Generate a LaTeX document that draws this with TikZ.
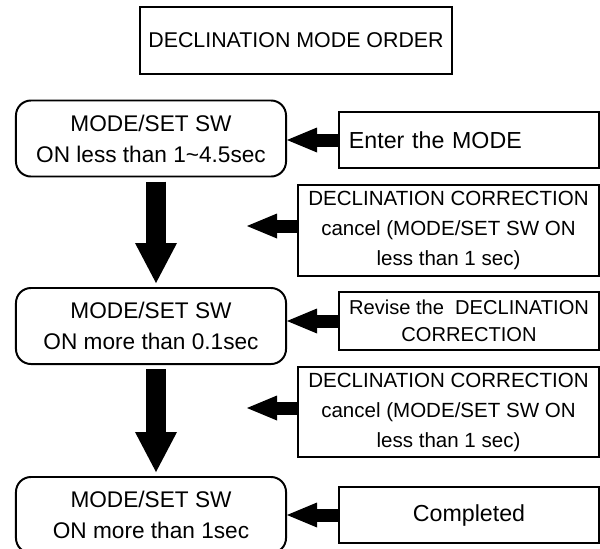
\documentclass[tikz,border=0pt]{standalone}
\usepackage{fontspec}
\setmainfont{Liberation Sans}
\usetikzlibrary{arrows.meta}

\begin{document}
\begin{tikzpicture}[x=0.025cm, y=-0.025cm, line width=1.4pt,
	every node/.style={draw, inner sep=0pt, align=center},
	swbox/.style={rounded corners=0.375cm, minimum width=6.75cm, minimum height=1.9cm, font=\fontsize{16.1}{22}\selectfont},
	msgbox/.style={minimum width=6.5cm, minimum height=1.42cm, font=\fontsize{16.5}{22}\selectfont},
	notebox/.style={minimum width=7.525cm, minimum height=2.27cm, font=\fontsize{14.6}{21.3}\selectfont},
	bigarrow/.style={line width=0.475cm, -{Triangle[width=1.05cm, length=1.0cm, line width=0pt]}, shorten <=0.1cm, shorten >=0.1cm},
	smallarrow/.style={line width=0.325cm, -{Triangle[width=0.625cm, length=0.75cm, line width=0pt]}}]
	\useasboundingbox (0,0) rectangle (600,548);
	\node[minimum width=7.8cm, minimum height=1.675cm, font=\fontsize{15.2}{18}\selectfont] (title) at (296,40.5) {DECLINATION MODE ORDER};
	% switch steps
	\node[swbox] (sw1) at (151,138.5) {MODE/SET SW\\ON less than 1\textasciitilde4.5sec};
	\node[swbox] (sw2) at (151,326) {MODE/SET SW\\ON more than 0.1sec};
	\node[swbox] (sw3) at (151,515) {MODE/SET SW\\ON more than 1sec};
	% messages
	\node[msgbox, text width=6.0cm, align=left] (enter) at (469,140) {Enter the MODE};
	\node[notebox] (cancel1) at (448.5,230.5) {DECLINATION CORRECTION\\cancel (MODE/SET SW ON\\less than 1 sec)};
	\node[msgbox, minimum height=1.45cm, font=\fontsize{14.3}{19.2}\selectfont] (revise) at (469,321) {Revise the\ \ DECLINATION\\CORRECTION};
	\node[notebox, minimum height=2.25cm] (cancel2) at (448.5,412) {DECLINATION CORRECTION\\cancel (MODE/SET SW ON\\less than 1 sec)};
	\node[msgbox] (done) at (469,515) {Completed};
	\coordinate (free1) at (247,226);
	\coordinate (free2) at (247,408);
	% arrows
	\draw[bigarrow] ([xshift=0.125cm]sw1.south) -- ([xshift=0.125cm]sw2.north);
	\draw[bigarrow] ([xshift=0.125cm]sw2.south) -- ([xshift=0.125cm]sw3.north);
	\foreach \from/\to in {enter/sw1, revise/sw2, done/sw3} {\draw[smallarrow] (\from.west) -- (\from.west -| \to.east);}
	\foreach \from/\to in {cancel1/free1, cancel2/free2} {\draw[smallarrow] (\from.west |- \to) -- (\to);}
\end{tikzpicture}
\end{document}
